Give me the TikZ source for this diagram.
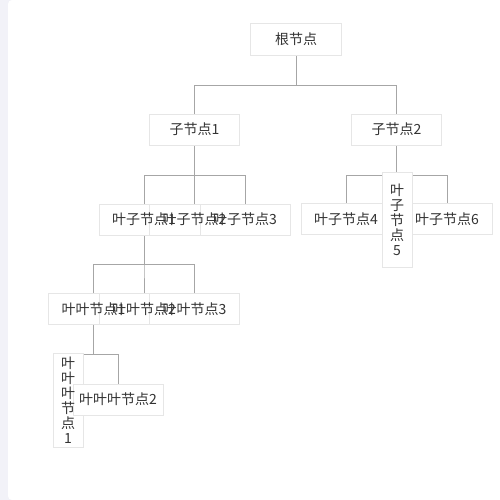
\documentclass[tikz,border=0pt]{standalone}
\usepackage{fontspec}
\newfontfamily\cjk{Noto Sans CJK SC}
\pgfdeclarelayer{lines}
\pgfsetlayers{lines,main}
\definecolor{linegray}{HTML}{A6A6A6}
\definecolor{boxgray}{HTML}{E6E6E6}
\definecolor{textgray}{HTML}{333333}
\definecolor{sidebar}{HTML}{F2F2F8}

\begin{document}
\begin{tikzpicture}[x=1pt, y=-1pt,
  box/.style={draw=boxgray, fill=white, inner sep=0pt, minimum width=90, minimum height=31},
  tallbox/.style={box, minimum width=30, minimum height=95},
  txt/.style={text=textgray, font=\cjk\fontsize{14}{15}\selectfont, align=center, inner sep=0pt},
  link/.style={draw=linegray, line width=0.9pt}]

% page
\useasboundingbox (0,0) rectangle (500,500);
\begin{pgfonlayer}{lines}
\fill[sidebar] (0,0) rectangle (500,500);
\fill[white, rounded corners=4pt] (8,0) rectangle (520,500);
\end{pgfonlayer}

% --- boxes ---
\node[box, minimum width=91, minimum height=32] (root) at (296,39.5) {};
\node[box] (c1) at (194.5,129.5) {};
\node[box] (c2) at (396.5,129.5) {};

\node[box] (l1) at (144,219.5) {};
\node[box] (l2) at (194.5,219.5) {};
\node[box] (l3) at (245,219.5) {};
\node[box] (l4) at (346,219) {};
\node[box] (l6) at (447,219) {};
\node[tallbox] (l5) at (397,219.5) {};

\node[box] (ll1) at (93.5,309) {};
\node[box] (ll2) at (144,309) {};
\node[box] (ll3) at (194.5,309) {};

\node[tallbox, minimum height=94] (lll1) at (68,400) {};
\node[box] (lll2) at (118,399.5) {};

% --- connectors ---
\begin{pgfonlayer}{lines}
\draw[link] (root.south) -- ++(0,29.5) -| (c1.north);
\draw[link] (root.south) -- ++(0,29.5) -| (c2.north);
\foreach \c in {l1,l2,l3}
  \draw[link] (c1.south) -- ++(0,30) -| (\c.north);
\foreach \c in {l4,l5,l6}
  \draw[link] (c2.south) -- ++(0,30) -| (\c.north);
\foreach \c in {ll1,ll2,ll3}
  \draw[link] (l1.south) -- ++(0,29) -| (\c.north);
\foreach \c in {lll1,lll2}
  \draw[link] (ll1.south) -- ++(0,30) -| (\c.north);
\end{pgfonlayer}

% --- labels ---
\node[txt] at (root) {根节点};
\node[txt] at (c1) {子节点1};
\node[txt] at (c2) {子节点2};
\node[txt] at (l1) {叶子节点1};
\node[txt] at (l2) {叶子节点2};
\node[txt] at (l3) {叶子节点3};
\node[txt] at (l4) {叶子节点4};
\node[txt] at (l5) {叶\\子\\节\\点\\5};
\node[txt] at (l6) {叶子节点6};
\node[txt] at (ll1) {叶叶节点1};
\node[txt] at (ll2) {叶叶节点2};
\node[txt] at (ll3) {叶叶节点3};
\node[txt] at (lll1) {叶\\叶\\叶\\节\\点\\1};
\node[txt] at (lll2) {叶叶叶节点2};

\end{tikzpicture}
\end{document}
